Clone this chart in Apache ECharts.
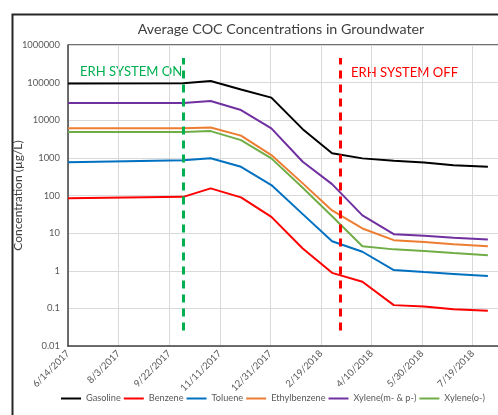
<!DOCTYPE html>
<html>
<head>
<meta charset="utf-8">
<script src="https://cdn.jsdelivr.net/npm/echarts@6/dist/echarts.min.js"></script>
<style>
  html, body { margin: 0; padding: 0; background: #fff; overflow: hidden; }
  #chart { width: 498px; height: 415px; }
</style>
</head>
<body>
<div id="chart"></div>
<script>
const dates = ["2017-06-14", "2017-10-06", "2017-11-02", "2017-12-02", "2018-01-01", "2018-02-01",
  "2018-03-02", "2018-04-01", "2018-05-02", "2018-06-01", "2018-06-30", "2018-08-03"];
const gasoline = [95000, 96000, 110000, 66000, 40000, 5800, 1320, 970, 840, 750, 640, 580];
const benzene = [85, 92, 155, 89, 27, 3.9, 0.88, 0.51, 0.122, 0.112, 0.095, 0.086];
const toluene = [760, 870, 975, 580, 189, 32, 6.1, 3.2, 1.04, 0.92, 0.82, 0.72];
const ethylbenzene = [6100, 6100, 6450, 3900, 1190, 210, 40, 13.3, 6.5, 5.8, 5.1, 4.5];
const xyleneMP = [28600, 28600, 32400, 18700, 6080, 787, 201, 29.6, 9.4, 8.5, 7.5, 6.8];
const xyleneO = [4850, 4850, 5150, 2970, 970, 160, 28, 4.5, 3.7, 3.35, 2.95, 2.6];
const yTicks = ["0.01", "0.1", "1", "10", "100", "1000", "10000", "100000", "1000000"];
const systemOn = "2017-10-06";
const systemOff = "2018-03-10";

// Excel-style serial day numbers, so 50-day ticks fall on 6/14/2017 etc.
const serial = (s) => {
  const [y, m, d] = s.split("-").map(Number);
  return (Date.UTC(y, m - 1, d) - Date.UTC(1899, 11, 30)) / 86400000;
};
const fmtDate = (v) => {
  const dt = new Date(Date.UTC(1899, 11, 30) + Math.round(v) * 86400000);
  return (dt.getUTCMonth() + 1) + "/" + dt.getUTCDate() + "/" + dt.getUTCFullYear();
};
const fmtY = (v) => {
  const s = v >= 1 ? String(Math.round(v)) : String(+v.toPrecision(1));
  return yTicks.includes(s) ? s : "";
};

const font = "Lato";
const names = ["Gasoline", "Benzene", "Toluene", "Ethylbenzene", "Xylene(m- & p-)", "Xylene(o-)"];
const colors = ["#000000", "#FF0000", "#0070C0", "#ED7D31", "#7030A0", "#70AD47"];
const values = [gasoline, benzene, toluene, ethylbenzene, xyleneMP, xyleneO];

const dashLine = (date, color) => ({
  silent: true, symbol: "none", label: { show: false },
  lineStyle: { color: color, width: 3, type: [8, 6] },
  data: [[{ coord: [serial(date), 0.026] }, { coord: [serial(date), 450000] }]]
});

const series = names.map((n, i) => ({
  name: n, type: "line", symbol: "none",
  lineStyle: { color: colors[i], width: 2 }, itemStyle: { color: colors[i] },
  data: dates.map((d, j) => [serial(d), values[i][j]])
}));
series[0].markLine = dashLine(systemOn, "#00B050");
series[1].markLine = dashLine(systemOff, "#FF0000");

const chart = echarts.init(document.getElementById("chart"), null, { renderer: "canvas" });
chart.setOption({
  animation: false,
  textStyle: { fontFamily: font },
  title: {
    text: "Average COC Concentrations in Groundwater",
    left: 276, top: 17, textAlign: "center",
    textStyle: { fontFamily: font, fontSize: 14.3, fontWeight: "normal", color: "#404040" }
  },
  grid: { left: 68, top: 45, bottom: 69, right: 0, outerBoundsMode: "none", containLabel: false },
  legend: {
    left: 56, top: 389, width: 442, icon: "rect", itemWidth: 20, itemHeight: 2, itemGap: 3,
    textStyle: { fontFamily: font, fontSize: 9.2, color: "#595959" },
    data: names
  },
  xAxis: {
    type: "value", min: 42900, max: 43325, interval: 50,
    axisLine: { lineStyle: { color: "#404040", width: 1.5 } },
    axisTick: { show: false },
    splitLine: { lineStyle: { color: "#d9d9d9" } },
    axisLabel: { rotate: 45, fontFamily: font, fontSize: 9.6, color: "#595959", margin: 6,
      formatter: fmtDate, showMaxLabel: false }
  },
  yAxis: {
    type: "log", logBase: 10, min: 0.01, max: 1000000,
    name: "Concentration (µg/L)", nameLocation: "middle", nameGap: 44, nameRotate: 90,
    nameMoveOverlap: false,
    nameTextStyle: { fontFamily: font, fontSize: 12, color: "#404040" },
    axisLine: { show: true, lineStyle: { color: "#404040", width: 1.5 } },
    axisTick: { show: false },
    splitLine: { lineStyle: { color: "#d9d9d9" } },
    axisLabel: { fontFamily: font, fontSize: 9.4, color: "#595959", margin: 8, formatter: fmtY }
  },
  graphic: [
    { type: "rect", left: 10, top: 12, shape: { width: 600, height: 500 }, silent: true,
      style: { fill: "none", stroke: "#262626", lineWidth: 2 } },
    { type: "line", silent: true, shape: { x1: 68, y1: 45, x2: 498, y2: 45 },
      style: { stroke: "#404040", lineWidth: 1.5 } },
    { type: "text", left: 80, top: 65, silent: true,
      style: { text: "ERH SYSTEM ON", fill: "#00B050", fontSize: 13.1, fontFamily: font } },
    { type: "text", left: 351, top: 66, silent: true,
      style: { text: "ERH SYSTEM OFF", fill: "#FF0000", fontSize: 13.1, fontFamily: font } }
  ],
  series: series
});
</script>
</body>
</html>
